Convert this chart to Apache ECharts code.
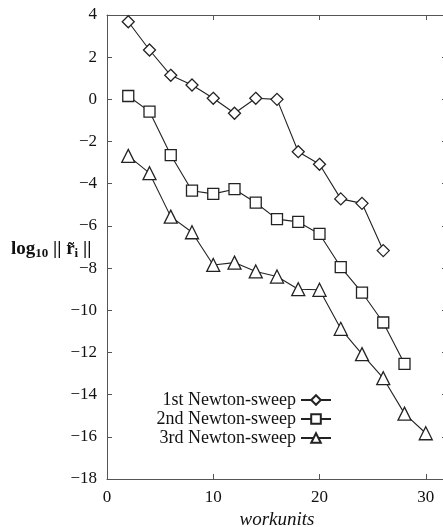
<!DOCTYPE html>
<html><head><meta charset="utf-8">
<script src="https://cdn.jsdelivr.net/npm/echarts@6/dist/echarts.min.js"></script>
<style>html,body{margin:0;padding:0;background:#fff}#c{width:443px;height:527px}</style>
</head><body><div id="c"></div>
<script>
const xs1 = [2,4,6,8,10,12,14,16,18,20,22,24,26];
const sweep1 = [3.68,2.34,1.14,0.68,0.05,-0.66,0.05,0.0,-2.48,-3.08,-4.72,-4.93,-7.17];
const xs2 = [2,4,6,8,10,12,14,16,18,20,22,24,26,28];
const sweep2 = [0.16,-0.58,-2.64,-4.33,-4.48,-4.26,-4.9,-5.68,-5.81,-6.38,-7.95,-9.16,-10.58,-12.54];
const xs3 = [2,4,6,8,10,12,14,16,18,20,22,24,26,28,30];
const sweep3 = [-2.68,-3.5,-5.56,-6.3,-7.85,-7.74,-8.16,-8.4,-9.0,-9.03,-10.88,-12.08,-13.22,-14.9,-15.83];
const names = ['1st Newton-sweep','2nd Newton-sweep','3rd Newton-sweep'];
const symbols = ['diamond','rect','triangle'];
const symSizes = [12,11,13];
const xTicks = [0,10,20,30];
const yTicks = [4,2,0,-2,-4,-6,-8,-10,-12,-14,-16,-18];

const font = 'Liberation Serif';
const ink = '#222';
const chart = echarts.init(document.getElementById('c'));
const xsAll = [xs1,xs2,xs3], ysAll=[sweep1,sweep2,sweep3];
const fmt = v => (v<0 ? '\u2212'+Math.abs(v) : String(v));
const series = names.map((n,i)=>({
  name:n, type:'line', symbol:symbols[i], symbolSize:symSizes[i],
  data: xsAll[i].map((x,j)=>[x, ysAll[i][j]]),
  lineStyle:{color:ink,width:1.1},
  itemStyle:{color:'#fff',borderColor:ink,borderWidth:1.3},
  emphasis:{disabled:true}, animation:false
}));
const axBase = {
  axisLine:{show:true,onZero:false,lineStyle:{color:'#555',width:1}},
  axisTick:{show:true,inside:true,length:5,lineStyle:{color:'#555'}},
  splitLine:{show:false}
};
chart.setOption({
  animation:false,
  grid:{left:107,top:15,right:-4,bottom:48,outerBoundsMode:'none',containLabel:false},
  xAxis:[
    Object.assign({type:'value',min:0,max:32,interval:10,position:'bottom',
      axisLabel:{fontFamily:font,fontSize:17,color:'#111',margin:10,
        formatter:v=>xTicks.includes(v)?fmt(v):''},
      name:'workunits',nameLocation:'middle',nameGap:31,
      nameTextStyle:{fontFamily:font,fontStyle:'italic',fontSize:19,color:'#111'}},axBase),
    Object.assign({type:'value',min:0,max:32,interval:10,position:'top',axisLabel:{show:false}},axBase)
  ],
  yAxis:[
    Object.assign({type:'value',min:-18,max:4,interval:2,position:'left',
      axisLabel:{fontFamily:font,fontSize:17,color:'#111',margin:10,
        formatter:v=>yTicks.includes(v)?fmt(v):''}},axBase),
    Object.assign({type:'value',min:-18,max:4,interval:2,position:'right',axisLabel:{show:false}},axBase)
  ],
  legend:{
    orient:'vertical', align:'right', right:106, top:386,
    itemWidth:30, itemHeight:12, itemGap:1,
    textStyle:{fontFamily:font,fontSize:18,color:'#111'},
    data:names, selectedMode:false
  },
  graphic:[{
    type:'text', left:11, top:240,
    style:{
      text:'{a|log}{b|10}{a| || r\u0303}{b|i}{a| ||}',
      rich:{
        a:{fontFamily:font,fontSize:19,fontWeight:'bold',fill:'#111'},
        b:{fontFamily:font,fontSize:13,fontWeight:'bold',fill:'#111',verticalAlign:'bottom',padding:[8,0,0,0]}
      }
    }
  }],
  series:series
});
</script></body></html>
